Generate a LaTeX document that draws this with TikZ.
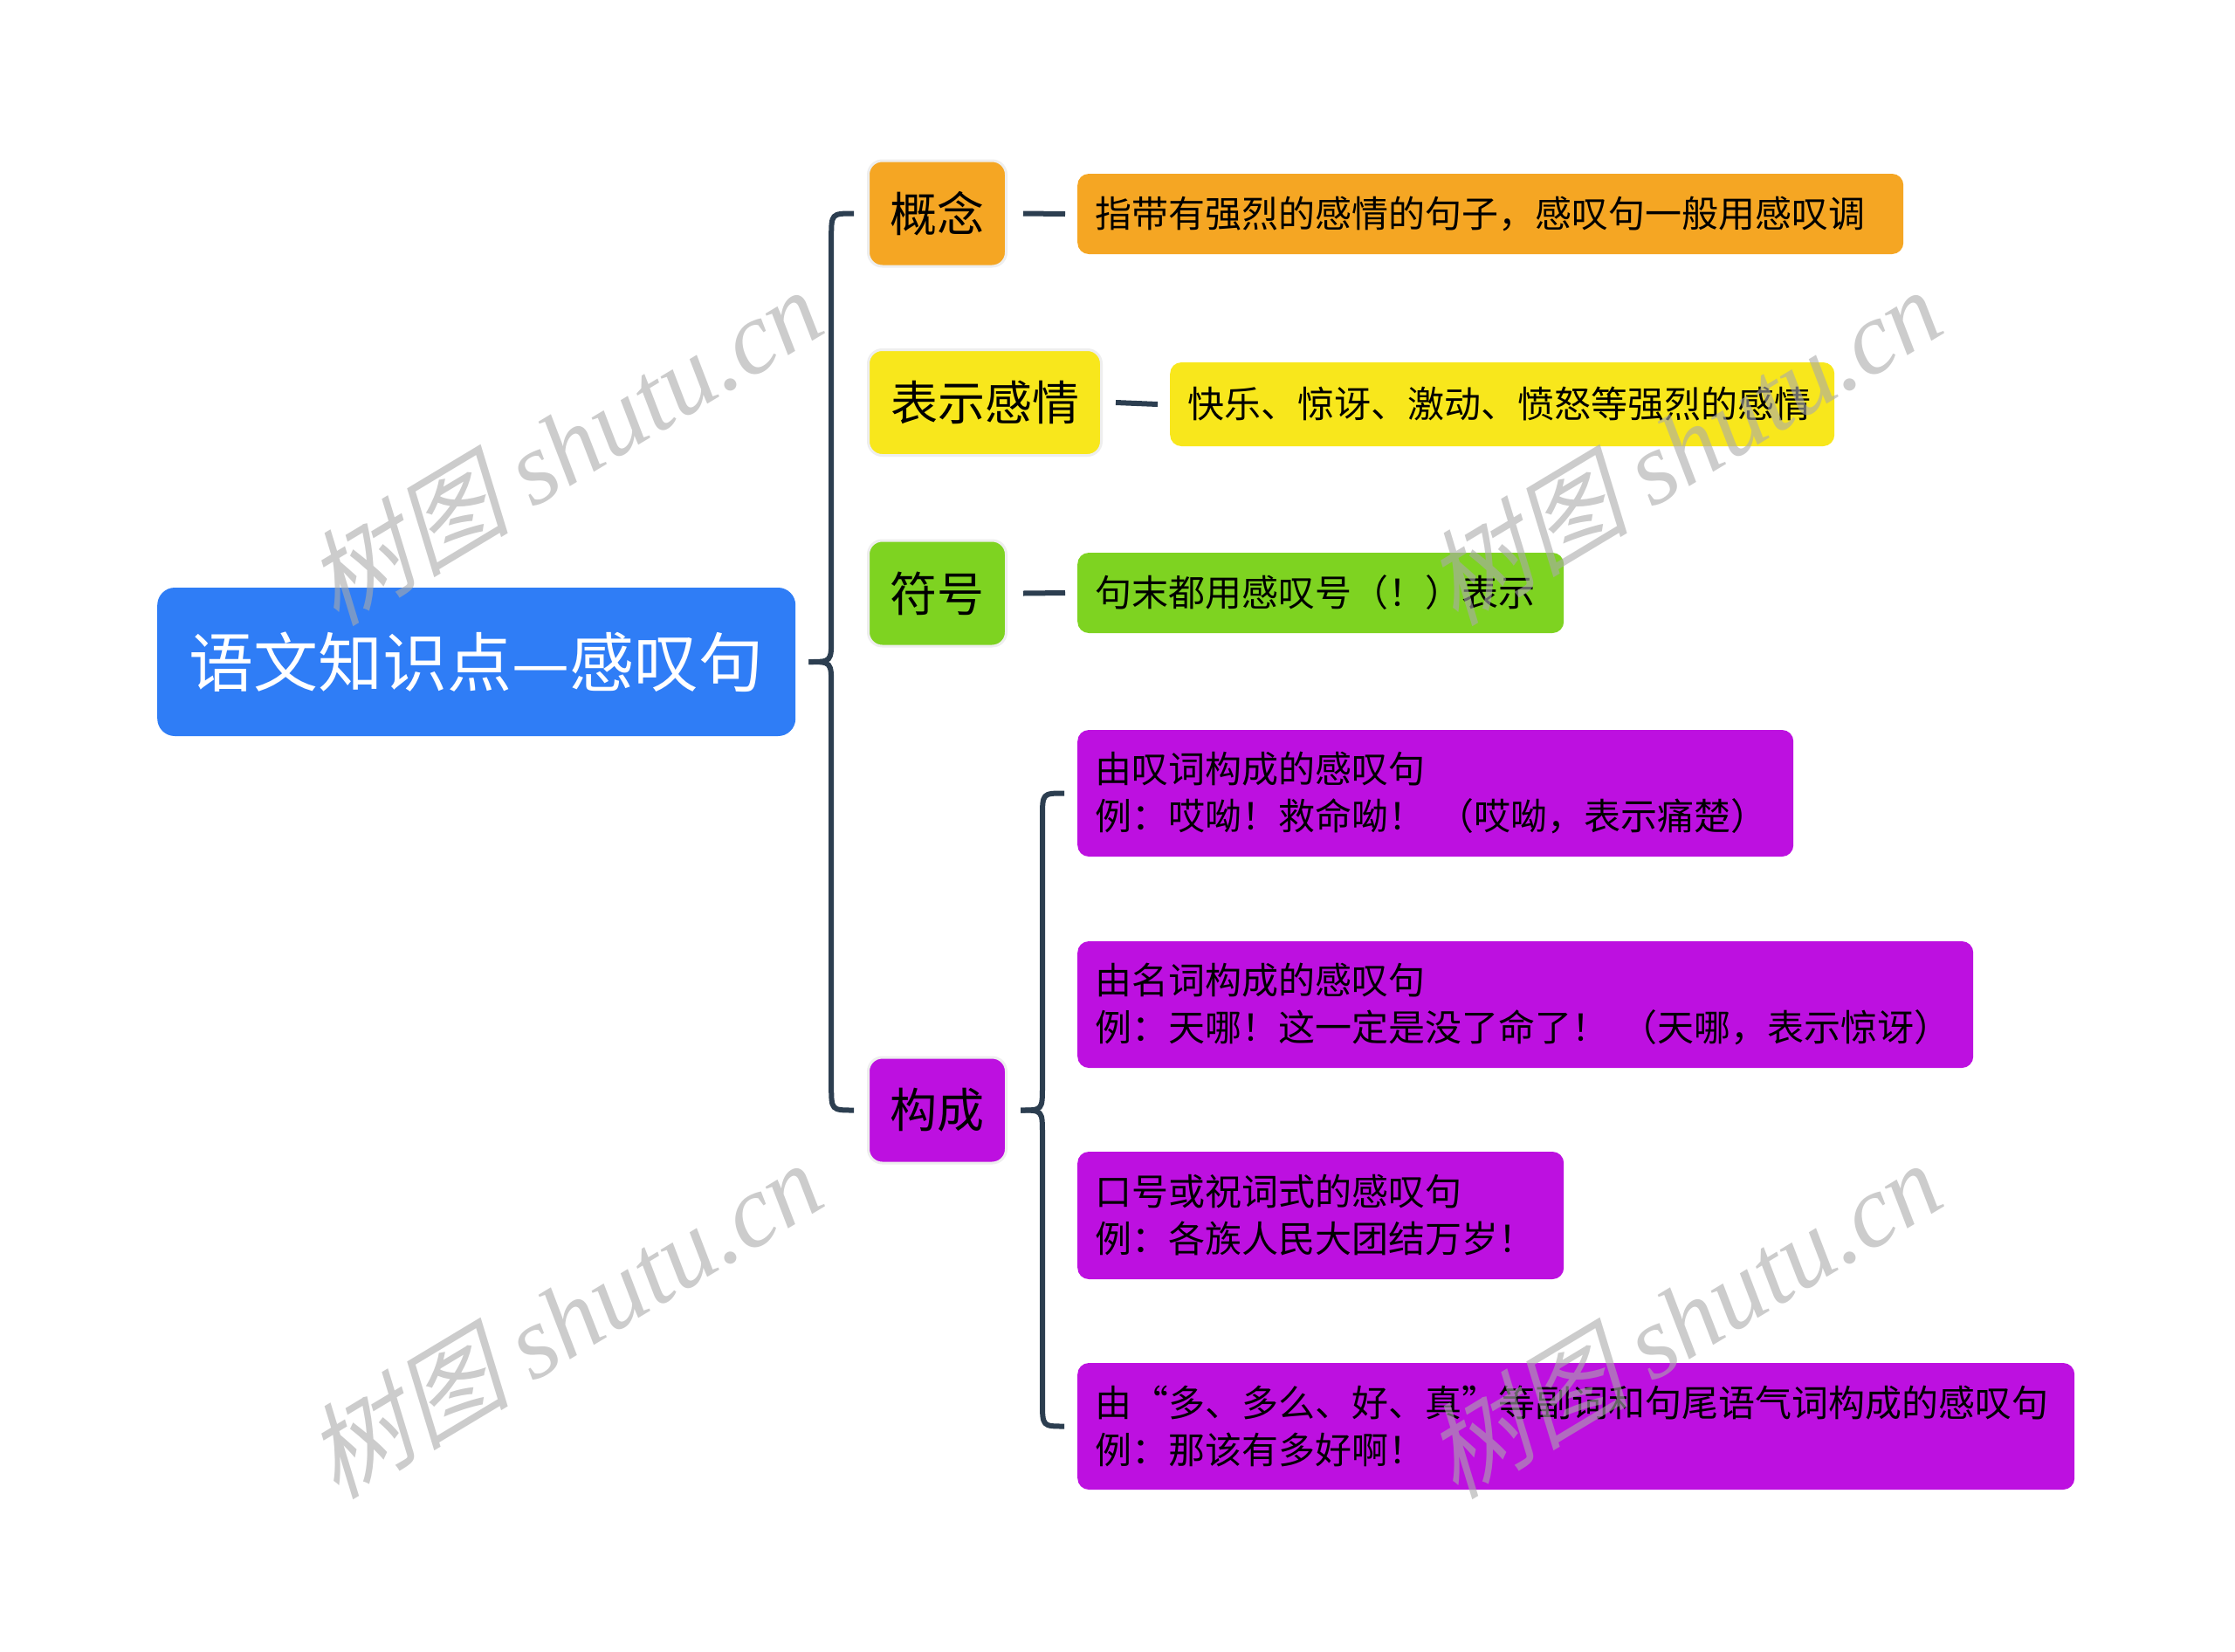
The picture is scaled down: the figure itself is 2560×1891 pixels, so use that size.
\documentclass[tikz,border=0pt]{standalone}
\usepackage{fontspec}
\setmainfont{Noto Sans CJK SC}
\newfontfamily\wmlat{Liberation Serif}
\newfontfamily\wmcjk[FakeSlant=0.25]{Noto Sans CJK SC}
\usetikzlibrary{calc}
\definecolor{rootblue}{RGB}{47,125,246}
\definecolor{orng}{RGB}{245,166,35}
\definecolor{yllw}{RGB}{248,231,28}
\definecolor{grn}{RGB}{126,211,33}
\definecolor{prpl}{RGB}{189,16,224}
\definecolor{linec}{RGB}{44,62,80}
\definecolor{wmgray}{RGB}{170,170,170}
\definecolor{halo}{RGB}{238,238,238}
\tikzset{
  rootbox/.style={fill=rootblue, rounded corners=20pt, text=white, anchor=west,
    minimum height=170pt, font=\fontsize{74}{88}\selectfont},
  topicbox/.style={rounded corners=16pt, draw=halo, line width=3pt, anchor=west,
    minimum height=121pt, font=\fontsize{54}{64}\selectfont, text=black},
  leafbox/.style={rounded corners=13pt, anchor=west, inner xsep=20pt,
    align=left, font=\fontsize{42}{54}\selectfont, text=black},
  conn/.style={draw=linec, line width=6pt},
  wmark/.style={text=wmgray, opacity=0.6, rotate=31, font=\fontsize{118}{124}\selectfont}
}
\newcommand\armup[2]{%
  \draw[conn] let \p1=($(#1.east)+(15,0)$), \p2=($(#2.west)+(-15,0)$),
    \n1={(\x1+\x2)/2} in
    (\p1) .. controls (\n1,\y1) .. (\n1,\y1+28pt) -- (\n1,\y2-28pt)
    .. controls (\n1,\y2) .. (\p2);}
\newcommand\armdown[2]{%
  \draw[conn] let \p1=($(#1.east)+(15,0)$), \p2=($(#2.west)+(-15,0)$),
    \n1={(\x1+\x2)/2} in
    (\p1) .. controls (\n1,\y1) .. (\n1,\y1-28pt) -- (\n1,\y2+28pt)
    .. controls (\n1,\y2) .. (\p2);}
\begin{document}
\begin{tikzpicture}[x=1pt,y=-1pt]
\useasboundingbox (0,0) rectangle (2560,1891);
\fill[white] (0,0) rectangle (2560,1891);

% root
\node[rootbox, minimum width=731pt] (root) at (180,758) {语文知识点—感叹句};

% topics
\node[topicbox, fill=orng, minimum width=158pt] (gn) at (993,244.5) {概念};
\node[topicbox, fill=yllw, minimum width=267pt] (bs) at (993,461) {表示感情};
\node[topicbox, fill=grn, minimum width=158pt] (fh) at (993,679.5) {符号};
\node[topicbox, fill=prpl, minimum width=158pt] (gc) at (993,1271.5) {构成};

% leaves
\node[leafbox, fill=orng, minimum height=92pt, text width=906pt] (c1) at (1234,245)
  {\mbox{指带有强烈的感情的句子，感叹句一般用感叹调}};
\node[leafbox, fill=yllw, minimum height=96pt, text width=721pt] (c2) at (1340,463)
  {\mbox{快乐、惊讶、激动、愤怒等强烈的感情}};
\node[leafbox, fill=grn, minimum height=92pt, text width=517pt] (c3) at (1234,679)
  {\mbox{句末都用感叹号（！）表示}};
\node[leafbox, fill=prpl, minimum height=145pt, text width=780pt] (d1) at (1234,908.5)
  {\mbox{由叹词构成的感叹句}\\\mbox{例：哎呦！救命呦！ （哎呦，表示痛楚）}};
\node[leafbox, fill=prpl, minimum height=145pt, text width=986pt] (d2) at (1234,1150.5)
  {\mbox{由名词构成的感叹句}\\\mbox{例：天哪！这一定是没了命了！ （天哪，表示惊讶）}};
\node[leafbox, fill=prpl, minimum height=146pt, text width=517pt] (d3) at (1234,1392)
  {\mbox{口号或祝词式的感叹句}\\\mbox{例：各族人民大团结万岁！}};
\node[leafbox, fill=prpl, minimum height=145pt, text width=1102pt] (d4) at (1234,1633.5)
  {\mbox{由“多、多么、好、真”等副词和句尾语气词构成的感叹句}\\\mbox{例：那该有多好啊！}};

% braces
\armup{root}{gn}
\armdown{root}{gc}
\armup{gc}{d1}
\armdown{gc}{d4}

% short connectors
\draw[conn] ($(gn.east)+(18,0)$) -- ($(c1.west)+(-14,0)$);
\draw[conn] ($(bs.east)+(15,0)$) -- ($(c2.west)+(-14,0)$);
\draw[conn] ($(fh.east)+(18,0)$) -- ($(c3.west)+(-14,0)$);

% watermarks
\node[wmark] (w1) at (645,510) {{\wmcjk 树图} {\wmlat\itshape shutu.cn}};
\node[wmark] (w2) at (1927,510) {{\wmcjk 树图} {\wmlat\itshape shutu.cn}};
\node[wmark] (w3) at (645,1510) {{\wmcjk 树图} {\wmlat\itshape shutu.cn}};
\node[wmark] (w4) at (1927,1510) {{\wmcjk 树图} {\wmlat\itshape shutu.cn}};
\end{tikzpicture}
\end{document}
